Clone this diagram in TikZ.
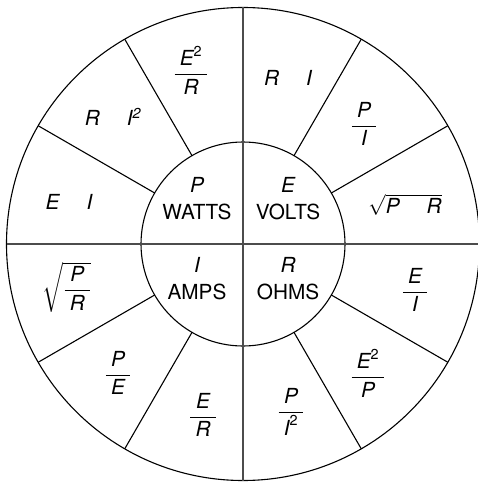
\documentclass[tikz,border=0pt]{standalone}
\usepackage{amsmath}
\usepackage{fontspec}
\setmainfont{TeX Gyre Heros}
\usetikzlibrary{calc}
\newcommand\vv[1]{\text{\itshape #1}}
\newcommand\sq{^{\text{2}}}
\newcommand\fr[2]{\dfrac{\hspace{0.25em}#1\hspace{0.25em}}{\hspace{0.25em}#2\hspace{0.25em}}}
\begin{document}
\begin{tikzpicture}[x=1pt,y=-1pt,
  ring/.style={line width=1.1pt},
  axis/.style={line width=1.8pt,draw=black!70},
  lbl/.style={font=\huge,inner sep=0pt,align=center},
  frac/.style={font=\huge,inner sep=0pt}]
\useasboundingbox (0,0) rectangle (477,484);
\coordinate (c) at (243,244);
\def\Ro{236.5}
\def\Ri{102}
\fill[white] (0,0) rectangle (477,484);
% spokes
\foreach \a in {30,60,120,150,210,240,300,330}
  \draw[ring] ($(c)+(\a:\Ri)$) -- ($(c)+(\a:\Ro)$);
\draw[ring] (c) circle[radius=\Ro];
\draw[ring] (c) circle[radius=\Ri];
\draw[axis] ($(c)+(0,-\Ro)$) -- ($(c)+(0,\Ro)$);
\draw[axis] ($(c)+(-\Ro,0)$) -- ($(c)+(\Ro,0)$);
% inner labels
\node[lbl] (p) at (197,199) {\itshape P\\[2pt]WATTS};
\node[lbl] (e) at (288,199) {\itshape E\\[2pt]VOLTS};
\node[lbl] (i) at (197,279) {\itshape I\\[2pt]AMPS};
\node[lbl] (r) at (288,279) {\itshape R\\[2pt]OHMS};
% outer labels
\node[frac] (o1) at (405,205) {$\sqrt{\vv{P}\hspace{1.3em}\vv{R}}$};
\node[frac] (o2) at (364,124) {$\fr{\vv{P}}{\vv{I}}$};
\node[frac] (o3) at (288,78) {\itshape R\hspace{1.3em}I};
\node[frac] (o4) at (191,70) {$\fr{\vv{E}\sq}{\vv{R}}$};
\node[frac] (o5) at (113,117) {\itshape R\hspace{1.3em}I$\sq$};
\node[frac] (o6) at (69,202) {\itshape E\hspace{1.3em}I};
\node[frac] (o7) at (67,287) {$\sqrt{\fr{\vv{P}}{\vv{R}}}$};
\node[frac] (o8) at (118,373) {$\fr{\vv{P}}{\vv{E}}$};
\node[frac] (o9) at (203,415) {$\fr{\vv{E}}{\vv{R}}$};
\node[frac] (o10) at (291,412) {$\fr{\vv{P}}{\vv{I}\sq}$};
\node[frac] (o11) at (368,373) {$\fr{\vv{E}\sq}{\vv{P}}$};
\node[frac] (o12) at (415,290) {$\fr{\vv{E}}{\vv{I}}$};
\end{tikzpicture}
\end{document}
